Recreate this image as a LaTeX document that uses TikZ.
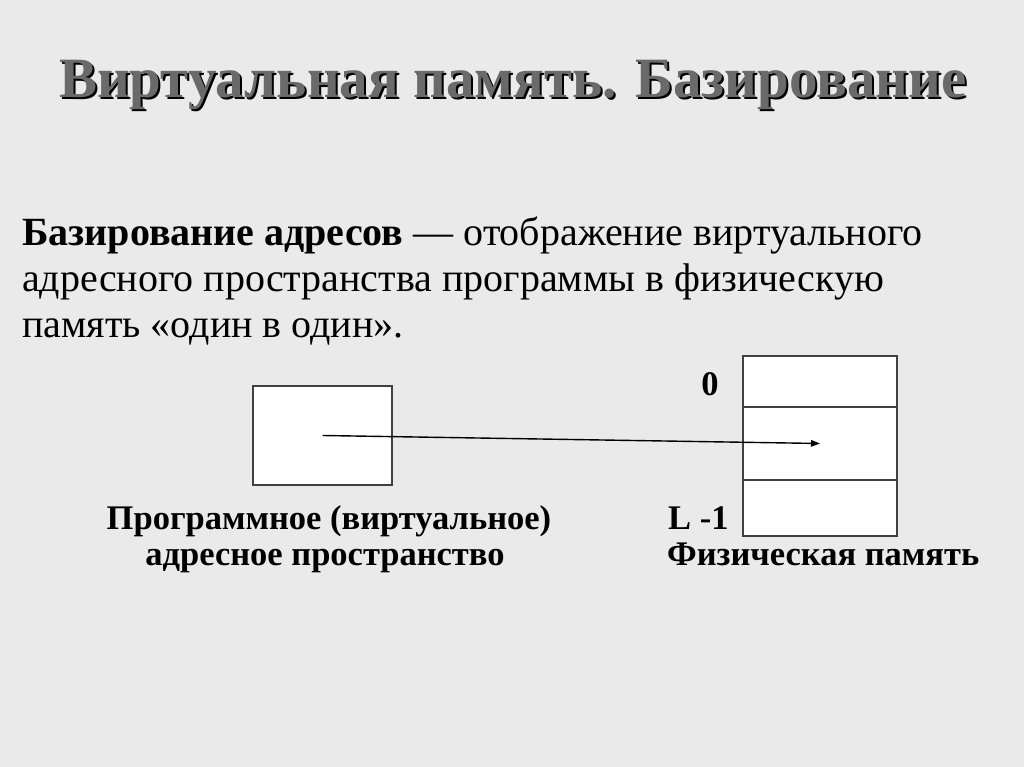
\documentclass[tikz,border=0pt]{standalone}
\usepackage{fontspec}
\setmainfont{Liberation Serif}
\usetikzlibrary{arrows.meta}
\definecolor{slidebg}{HTML}{EAEAEA}
\definecolor{titlegray}{HTML}{6A6A6A}
\definecolor{boxline}{HTML}{404040}
\tikzset{
  cell/.style={draw=boxline, line width=1.3pt, fill=white, inner sep=0pt},
  bodyline/.style={anchor=base west, inner sep=0pt, font=\fontsize{40}{46}\selectfont},
}
\begin{document}
\begin{tikzpicture}[x=1pt,y=-1pt]
  \fill[slidebg] (0,0) rectangle (1024,767);
  \useasboundingbox (0,0) rectangle (1024,767);

  % title with shadow
  \node[font=\fontsize{57}{60}\selectfont\bfseries, text=black, inner sep=0pt] (titleshadow) at (515,87) {Виртуальная память. Базирование};
  \node[font=\fontsize{57}{60}\selectfont\bfseries, text=titlegray, inner sep=0pt] (title) at (513,85) {Виртуальная память. Базирование};

  % definition
  \node[bodyline] (line1) at (22,245) {\textbf{Базирование адресов} — отображение виртуального};
  \node[bodyline] (line2) at (22,291) {адресного пространства программы в физическую};
  \node[bodyline] (line3) at (22,337) {память «один в один».};

  % boxes
  \node[cell, minimum width=139pt, minimum height=99pt] (prog) at (322.5,435.5) {};
  \node[cell, minimum width=154pt, minimum height=51pt] (top) at (820,381.5) {};
  \node[cell, minimum width=154pt, minimum height=73pt] (mid) at (820,443.5) {};
  \node[cell, minimum width=154pt, minimum height=56pt] (bot) at (820,508) {};

  \draw[line width=1.4pt, -{Triangle[length=9pt,width=6.5pt]}] (prog.center) -- (mid.center);

  \begin{scope}[every node/.style={font=\fontsize{34.5}{38}\selectfont\bfseries, inner sep=0pt}]
    \node[anchor=base] (zero) at (710,395) {0};
    \node[anchor=base west] (last) at (668,529) {L -1};
    \node[anchor=base] (proglabel1) at (329,529) {Программное (виртуальное)};
    \node[anchor=base] (proglabel2) at (325,565) {адресное пространство};
    \node[anchor=base west] (physlabel) at (667,565) {Физическая память};
  \end{scope}
\end{tikzpicture}
\end{document}
